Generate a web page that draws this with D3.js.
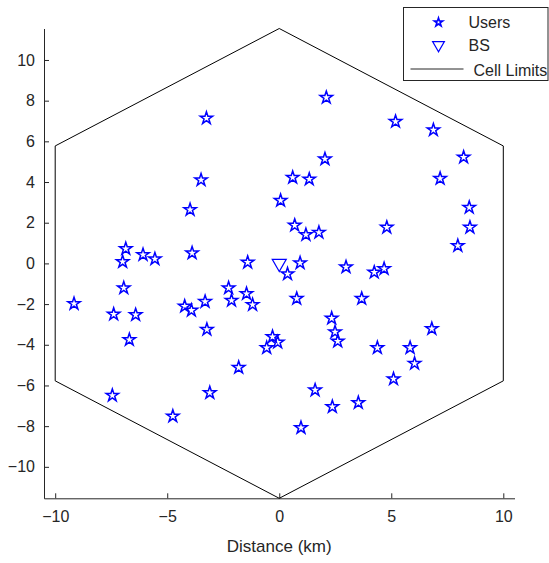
<!DOCTYPE html>
<html>
<head>
<meta charset="utf-8">
<script src="https://cdn.jsdelivr.net/npm/d3@7"></script>
<style>
  body { margin: 0; background: #fff; }
  svg text { font-family: "Liberation Sans", Arial, sans-serif; fill: #262626; }
</style>
</head>
<body>
<div id="chart"></div>
<script>
// user positions (km)
var userX = [-3.49, -3.98, -6.85, -6.99, -6.08, -5.55, -3.89, -1.41, 0.06,
  6.88, 8.23, 7.18, 2.04, 0.60, 1.34, 8.48, 0.69, 1.19, 1.77, 4.80, 8.51, 7.97,
  0.93, 0.37, 2.98, 4.24, 4.68,
  -9.16, -6.94, -7.39, -6.41, -6.69, -4.22, -3.92, -3.31, -3.23, -2.26, -2.13,
  -1.46, -1.19, -0.30, -0.07, -0.56, -1.81, -7.45, -3.10, -4.75,
  0.78, 3.68, 2.34, 2.49, 2.61, 4.38, 5.84, 6.04, 6.81, 5.10, 1.60, 2.37, 3.53, 0.97,
  -3.25, 2.10, 5.19]
var userY = [4.10, 2.64, 0.72, 0.08, 0.43, 0.22, 0.51, 0.05, 3.09,
  6.56, 5.22, 4.17, 5.13, 4.22, 4.14, 2.75, 1.87, 1.41, 1.52, 1.77, 1.77, 0.87,
  0.02, -0.52, -0.18, -0.44, -0.26,
  -1.98, -1.21, -2.50, -2.53, -3.75, -2.11, -2.31, -1.88, -3.25, -1.21, -1.82,
  -1.49, -2.03, -3.61, -3.88, -4.15, -5.12, -6.49, -6.36, -7.51,
  -1.73, -1.73, -2.70, -3.37, -3.83, -4.15, -4.15, -4.92, -3.21, -5.68, -6.23, -7.05, -6.85, -8.08,
  7.14, 8.15, 6.97]
var bsX = [0]
var bsY = [0]
// hexagonal cell, radius 11.547 km
var cellX = [0, 10, 10, 0, -10, -10, 0]
var cellY = [11.547, 5.7735, -5.7735, -11.547, -5.7735, 5.7735, 11.547]
var xTicks = [-10, -5, 0, 5, 10]
var yTicks = [-10, -8, -6, -4, -2, 0, 2, 4, 6, 8, 10]
var legendNames = ['Users', 'BS', 'Cell Limits']

var width = 549, height = 563
var margin = {top: 28.5, right: 34.5, bottom: 64.7, left: 44}
var w = width - margin.left - margin.right,
    h = height - margin.top - margin.bottom

var svg = d3.select('#chart').append('svg')
    .attr('width', width)
    .attr('height', height)

var g = svg.append('g')
    .attr('transform', 'translate(' + margin.left + ',' + margin.top + ')')

var x = d3.scaleLinear().domain([-10.5, 10.5]).range([0, w])
var y = d3.scaleLinear().domain([-11.547, 11.547]).range([h, 0])

// axes: ticks point inward like matlab
var xAxis = g.append('g')
    .attr('transform', 'translate(0,' + h + ')')
    .call(d3.axisBottom(x).tickValues(xTicks).tickSizeInner(-5).tickSizeOuter(0).tickPadding(12))
var yAxis = g.append('g')
    .call(d3.axisLeft(y).tickValues(yTicks).tickSizeInner(-5).tickSizeOuter(0).tickPadding(9))

;[xAxis, yAxis].forEach(function(a) {
  a.select('.domain').attr('stroke', '#262626').attr('stroke-width', 1)
  a.selectAll('.tick line').attr('stroke', '#262626')
  a.selectAll('.tick text').attr('font-size', 16).style('font-family', '"Liberation Sans", Arial, sans-serif').attr('fill', '#262626')
})

g.append('text')
    .attr('x', x(0))
    .attr('y', h + 54)
    .attr('text-anchor', 'middle')
    .attr('font-size', 17)
    .text('Distance (km)')

// cell limits
var line = d3.line().x(d => x(d[0])).y(d => y(d[1]))
g.append('path')
    .datum(d3.zip(cellX, cellY))
    .attr('d', line)
    .attr('fill', 'none')
    .attr('stroke', '#000')
    .attr('stroke-width', 1)

var star = d3.symbol().type(d3.symbolStar).size(48)
g.selectAll('.user')
    .data(d3.zip(userX, userY))
    .enter().append('path')
    .attr('class', 'user')
    .attr('d', star)
    .attr('transform', d => 'translate(' + x(d[0]) + ',' + y(d[1]) + ')')
    .attr('fill', 'none')
    .attr('stroke', '#0000ff')
    .attr('stroke-width', 1.5)

var tri = d3.symbol().type(d3.symbolTriangle).size(85)
g.selectAll('.bs')
    .data(d3.zip(bsX, bsY))
    .enter().append('path')
    .attr('class', 'bs')
    .attr('d', tri)
    .attr('transform', d => 'translate(' + x(d[0]) + ',' + y(d[1]) + ') rotate(180)')
    .attr('fill', 'none')
    .attr('stroke', '#0000ff')
    .attr('stroke-width', 1.2)

// legend
var lg = svg.append('g').attr('transform', 'translate(403.5,7.5)')
lg.append('rect')
    .attr('width', 144.5).attr('height', 73)
    .attr('fill', '#fff').attr('stroke', '#262626').attr('stroke-width', 1)
var rows = [22.3 - 7.5, 45 - 7.5, 69 - 7.5]
lg.append('path')
    .attr('d', d3.symbol().type(d3.symbolStar).size(22))
    .attr('transform', 'translate(35,' + rows[0] + ')')
    .attr('fill', 'none').attr('stroke', '#0000ff').attr('stroke-width', 1.6)
lg.append('path')
    .attr('d', d3.symbol().type(d3.symbolTriangle).size(60))
    .attr('transform', 'translate(35,' + rows[1] + ') rotate(180)')
    .attr('fill', 'none').attr('stroke', '#0000ff').attr('stroke-width', 1.2)
lg.append('line')
    .attr('x1', 7).attr('x2', 60).attr('y1', rows[2]).attr('y2', rows[2])
    .attr('stroke', '#262626').attr('stroke-width', 1)
lg.selectAll('.lbl')
    .data(legendNames)
    .enter().append('text')
    .attr('x', (d, i) => i == 2 ? 70 : 65)
    .attr('y', (d, i) => rows[i] + (i == 2 ? 1.5 : 0))
    .attr('dy', '0.35em')
    .attr('font-size', 16)
    .text(d => d)
</script>
</body>
</html>
